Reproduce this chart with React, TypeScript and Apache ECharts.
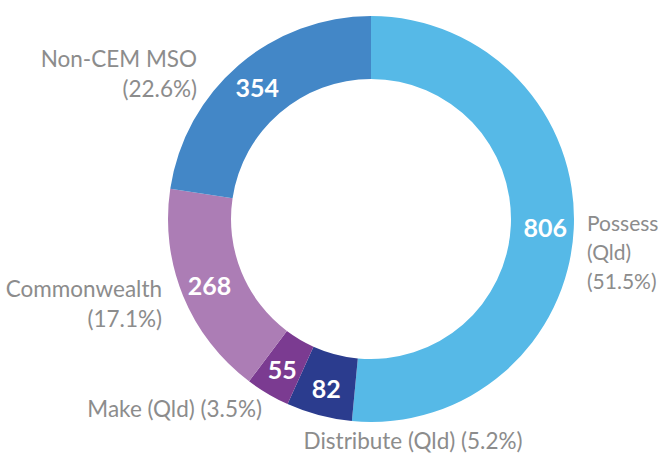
import React, { useEffect, useRef } from "react";
import * as echarts from "echarts";

const categories = ["Possess (Qld)", "Distribute (Qld)", "Make (Qld)", "Commonwealth", "Non-CEM MSO"];
const labelTexts = ["Possess\n(Qld)", "Distribute (Qld)", "Make (Qld)", "Commonwealth", "Non-CEM MSO"];
const values = [806, 82, 55, 268, 354];
const colors = ["#56b9e7", "#2b3c8e", "#7b3b91", "#ac7db5", "#4387c7"];

// label placement (outside names)
const labelPlacement: Record<number, { x: number; y: number; align: string; sep: string; size: number; lh: number }> = {
  0: { x: 587, y: 251, align: "left", sep: "\n", size: 21, lh: 29 },
  1: { x: 413, y: 440, align: "center", sep: " ", size: 22.5, lh: 30 },
  2: { x: 262, y: 408, align: "right", sep: " ", size: 22.5, lh: 30 },
  3: { x: 162, y: 303, align: "right", sep: "\n", size: 22.5, lh: 30 },
  4: { x: 197, y: 73, align: "right", sep: "\n", size: 22.5, lh: 30 },
};

export default function App() {
  const ref = useRef<HTMLDivElement>(null);
  useEffect(() => {
    document.body.style.margin = "0";
    const chart = echarts.init(ref.current!, undefined, { renderer: "svg" });
    const total = values.reduce((a, b) => a + b, 0);
    const data = categories.map((c, i) => ({
      name: c,
      value: values[i],
      itemStyle: { color: colors[i] },
    }));
    const center = [371, 219];
    const radius = [140, 203];
    chart.setOption({
      animation: false,
      series: [
        {
          type: "pie",
          center,
          radius,
          startAngle: 90,
          clockwise: true,
          silent: true,
          data,
          label: {
            show: true,
            position: "inside",
            formatter: (p: any) => String(p.value),
            color: "#ffffff",
            fontFamily: "Lato",
            fontWeight: "bold",
            fontSize: 25,
          },
          labelLine: { show: false },
        },
        {
          type: "pie",
          center,
          radius,
          startAngle: 90,
          clockwise: true,
          silent: true,
          data: data.map((d, i) => ({
            ...d,
            itemStyle: { color: "rgba(0,0,0,0)" },
            label: { fontSize: labelPlacement[i].size, lineHeight: labelPlacement[i].lh },
          })),
          label: {
            show: true,
            position: "outside",
            overflow: "none",
            formatter: (p: any) => {
              const i = p.dataIndex;
              const pct = ((values[i] / total) * 100).toFixed(1);
              return labelTexts[i] + labelPlacement[i].sep + "(" + pct + "%)";
            },
            color: "#8c8c8c",
            fontFamily: "Lato",
            fontSize: 22.5,
            lineHeight: 30,
          },
          labelLine: { show: false },
          labelLayout: (params: any) => {
            const p = labelPlacement[params.dataIndex];
            return { x: p.x, y: p.y, align: p.align, verticalAlign: "middle" };
          },
        },
      ],
    });
    return () => chart.dispose();
  }, []);
  return <div ref={ref} style={{ width: 664, height: 456 }} />;
}
